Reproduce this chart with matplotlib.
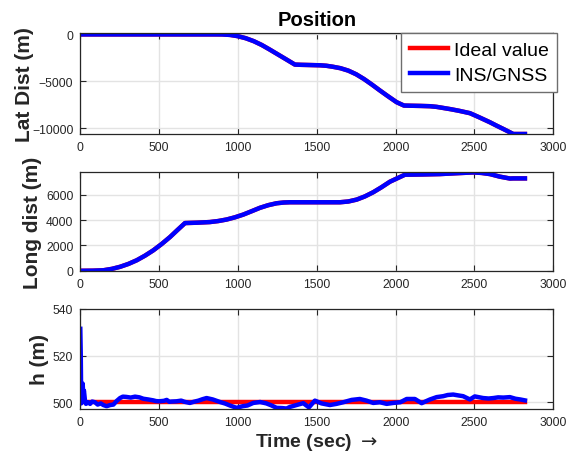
import numpy as np
import matplotlib
matplotlib.use('Agg')
import matplotlib.pyplot as plt

plt.rcParams['font.family'] = ['Liberation Sans', 'DejaVu Sans']

# Lat distance (m) vs time (sec)
t_lat = [0, 300, 600, 850, 900, 950, 1000, 1050, 1100, 1150, 1200, 1250, 1300, 1361, 1400,
         1450, 1520, 1560, 1600, 1650, 1700, 1750, 1800, 1850, 1900, 1950, 2006, 2053, 2100,
         2160, 2218, 2260, 2300, 2350, 2400, 2471, 2530, 2598, 2640, 2683, 2746, 2820]
lat = [0, 0, 0, 0, -5, -55, -190, -410, -720, -1120, -1600, -2100, -2600, -3215, -3240,
       -3260, -3290, -3340, -3440, -3600, -3860, -4250, -4760, -5350, -5970, -6570, -7220,
       -7580, -7600, -7620, -7650, -7720, -7830, -7970, -8130, -8390, -8830, -9360, -9720,
       -10075, -10610, -10610]

# Long distance (m) vs time (sec)
t_long = [0, 80, 146, 200, 252, 305, 358, 410, 463, 516, 569, 616, 664, 740, 822, 875, 928,
          980, 1034, 1086, 1139, 1192, 1245, 1290, 1330, 1500, 1647, 1700, 1753, 1805, 1858,
          1910, 1964, 2059, 2170, 2281, 2390, 2492, 2545, 2598, 2660, 2725, 2746, 2820]
long_d = [0, 10, 40, 150, 313, 540, 830, 1190, 1613, 2110, 2660, 3210, 3760, 3790, 3840, 3920,
          4040, 4210, 4430, 4690, 4960, 5170, 5320, 5380, 5400, 5400, 5400, 5460, 5610, 5860,
          6190, 6580, 7020, 7570, 7590, 7620, 7690, 7750, 7710, 7620, 7420, 7270, 7280, 7280]

# Height (m) vs time (sec)
t_h = [0, 3, 6, 10, 15, 19, 23, 30, 36, 50, 62, 75, 93, 110, 130, 146, 167, 190, 210, 230,
       252, 270, 290, 320, 347, 375, 400, 430, 463, 480, 500, 530, 548, 565, 580, 610, 640,
       660, 695, 720, 750, 775, 801, 840, 886, 920, 949, 991, 1030, 1060, 1097, 1140, 1180,
       1210, 1245, 1280, 1308, 1330, 1372, 1414, 1450, 1488, 1530, 1583, 1625, 1668, 1721,
       1773, 1815, 1858, 1900, 1943, 1985, 2030, 2070, 2122, 2165, 2218, 2260, 2302, 2330,
       2365, 2400, 2428, 2471, 2502, 2555, 2590, 2620, 2650, 2683, 2725, 2760, 2790, 2820]
h = [531.5, 520, 499.5, 503, 508, 503, 505, 500.5, 499.3, 500, 499.3, 500.3, 500, 499, 499.5,
     498.8, 498.3, 498.8, 499, 500.5, 501.8, 502.4, 502.3, 502, 502.4, 502.1, 501.5, 501.2,
     500.8, 500.5, 500.4, 500.6, 501, 500.2, 500.3, 500.4, 500.7, 500.2, 499.7, 500.2, 500.7,
     501.3, 501.8, 501.2, 500.1, 499.4, 498.6, 497.6, 498.3, 498.6, 499.7, 500.1, 499.5,
     498.7, 497.6, 497.5, 497.3, 498, 498.8, 499.6, 497.8, 500.7, 499.5, 498.8, 499.3, 500,
     501, 501.4, 500.7, 499.7, 500, 499.3, 499.7, 500, 501.4, 501.4, 499.6, 501.2, 502.2,
     502.6, 503.1, 503.3, 502.9, 502.6, 501.2, 502.5, 501.8, 501.6, 501.8, 502.1, 502,
     502.2, 501.5, 501.2, 500.8]

# ideal altitude
t_ideal_h = [0, 2820]
h_ideal = [500, 500]

ideal_lbl = 'Ideal value'
est_lbl = 'INS/GNSS'

W, H = 576, 452
fig = plt.figure(figsize=(5.76, 4.52), dpi=100)

left = 80.3 / W
width = 473 / W
boxes = [(34, 135), (173.3, 272.3), (310, 410)]
axs = []
for top, bot in boxes:
    axs.append(fig.add_axes([left, (H - bot) / H, width, (bot - top) / H]))

dark = '#262626'
for ax in axs:
    ax.set_xlim(0, 3000)
    ax.set_xticks(np.arange(0, 3001, 500))
    ax.grid(True, color='#e3e3e3', linewidth=1.0)
    ax.set_axisbelow(True)
    ax.tick_params(direction='in', top=True, right=True, length=4, width=0.8,
                   labelsize=8.7, colors=dark, pad=5)
    for s in ax.spines.values():
        s.set_color(dark)
        s.set_linewidth(0.9)

ax1, ax2, ax3 = axs

ax1.plot(t_lat, lat, color='red', lw=3.2, label=ideal_lbl)
ax1.plot(t_lat, lat, color='blue', lw=3.2, label=est_lbl)
ax1.set_ylim(-10610, 150)
ax1.set_yticks([-10000, -5000, 0])
ax1.set_ylabel('Lat Dist (m)', fontsize=15, fontweight='bold', color=dark)
ax1.set_title('Position', fontsize=14.5, fontweight='bold', pad=6)

ax2.plot(t_long, long_d, color='red', lw=3.2)
ax2.plot(t_long, long_d, color='blue', lw=3.2)
ax2.set_ylim(-40, 7760)
ax2.set_yticks([0, 2000, 4000, 6000])
ax2.set_ylabel('Long dist (m)', fontsize=15, fontweight='bold', color=dark)

ax3.plot(t_ideal_h, h_ideal, color='red', lw=3.2)
ax3.plot(t_h, h, color='blue', lw=3.2)
ax3.set_ylim(497.1, 540)
ax3.set_yticks([500, 520, 540])
ax3.set_ylabel('h (m)', fontsize=15, fontweight='bold', color=dark)
ax3.set_xlabel(r'Time (sec) $\rightarrow$', fontsize=14, fontweight='bold', color=dark, labelpad=2.5)

ax1.yaxis.set_label_coords(-0.097, 0.5)
ax2.yaxis.set_label_coords(-0.082, 0.5)
ax3.yaxis.set_label_coords(-0.066, 0.5)

leg = ax1.legend(loc='upper right', bbox_to_anchor=(557.3 / W, 1 - 34 / H),
                 bbox_transform=fig.transFigure, borderaxespad=0, fontsize=14,
                 fancybox=False, framealpha=1, edgecolor='#6e6e6e',
                 handlelength=2.0, handletextpad=0.3, labelspacing=0.4, borderpad=0.42)
leg.get_frame().set_linewidth(1.0)

fig.savefig('out.png', dpi=100)
